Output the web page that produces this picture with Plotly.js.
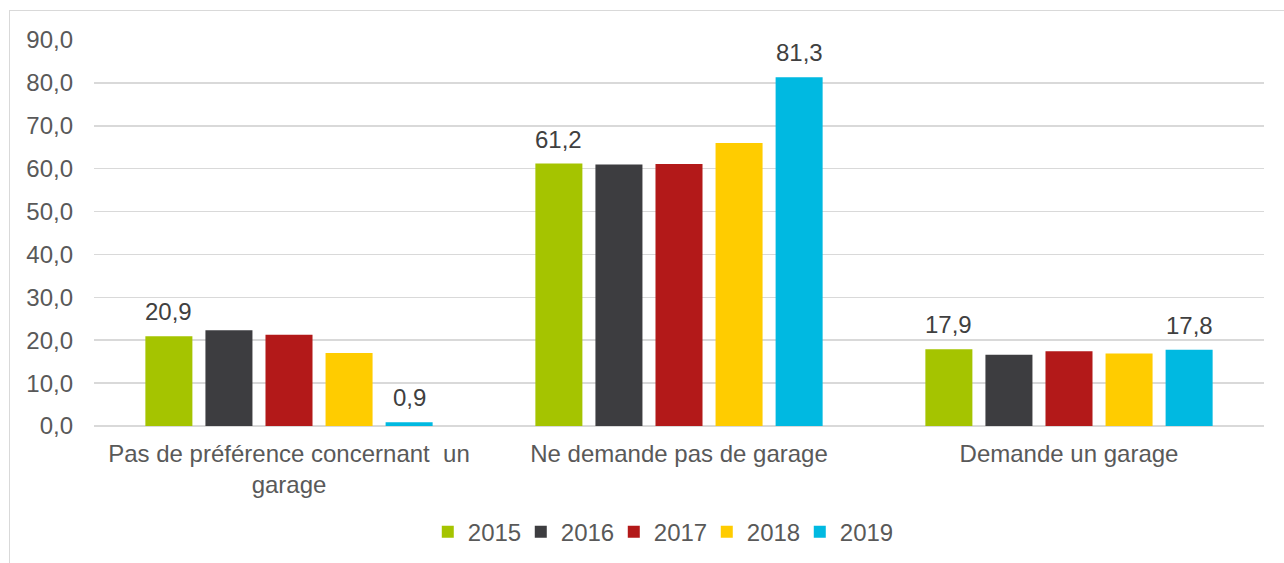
<!DOCTYPE html>
<html><head><meta charset="utf-8">
<script src="https://cdn.plot.ly/plotly-3.0.1.min.js"></script>
<style>
html,body{margin:0;padding:0;background:#fff;}
#chart{position:absolute;left:0;top:0;width:1284px;height:563px;}
#frame{position:absolute;left:9px;top:10px;width:1300px;height:600px;border-left:1px solid #d9d9d9;border-top:1px solid #d9d9d9;pointer-events:none;}
</style></head>
<body>
<div id="chart"></div>
<div id="frame"></div>
<script>
const categories = ["Pas de préférence concernant  un<br>garage", "Ne demande pas de garage", "Demande un garage"];
const years = ["2015", "2016", "2017", "2018", "2019"];
const v2015 = [20.9, 61.2, 17.9];
const v2016 = [22.3, 61.0, 16.6];
const v2017 = [21.3, 61.1, 17.4];
const v2018 = [17.0, 66.0, 16.9];
const v2019 = [0.9, 81.3, 17.8];
const colors = ["#a5c400", "#3d3d40", "#b31919", "#ffcc00", "#00b9e1"];
const labelled = [true, false, false, false, true];
const series = [v2015, v2016, v2017, v2018, v2019];

const FONT = "Liberation Sans, Arial, sans-serif";
const FS = 24;
const BARGAP = 0.23, GROUPGAP = 0.217;

const traces = series.map((vals, i) => ({
  type: "bar",
  name: years[i],
  x: categories,
  y: vals,
  marker: {color: colors[i]},
  hoverinfo: "skip"
}));

// data labels via the category axis scale: offset of each series within its group
const slot = (1 - BARGAP) / series.length;
const annotations = [];
series.forEach((vals, i) => {
  if (!labelled[i]) return;
  vals.forEach((v, j) => {
    annotations.push({
      x: j + (i - (series.length - 1) / 2) * slot,
      y: v, xref: "x", yref: "y",
      text: v.toFixed(1).replace(".", ","),
      showarrow: false, yanchor: "bottom", yshift: 9,
      font: {family: FONT, size: FS, color: "#404040"}
    });
  });
});

const layout = {
  width: 1284, height: 563,
  margin: {l: 94, r: 20, t: 40, b: 137},
  paper_bgcolor: "#fff", plot_bgcolor: "#fff",
  separators: ",.",
  font: {family: FONT, size: FS, color: "#595959"},
  barmode: "group",
  bargap: BARGAP,
  bargroupgap: GROUPGAP,
  showlegend: true,
  legend: {orientation: "h", x: 0.484, xanchor: "center", yref: "container", y: 0.055, yanchor: "middle",
           font: {family: FONT, size: FS, color: "#595959"}, itemwidth: 30, tracegroupgap: 0,
           entrywidth: 48, entrywidthmode: "pixels"},
  annotations: annotations,
  xaxis: {type: "category", showgrid: false, showline: false, ticks: "",
          ticklabelstandoff: 11, automargin: false,
          tickfont: {family: FONT, size: FS, color: "#595959"}, fixedrange: true},
  yaxis: {range: [0, 90], dtick: 10, tickformat: ".1f", showgrid: true, automargin: false,
          gridcolor: "#d9d9d9", gridwidth: 1.5, zeroline: true, zerolinecolor: "#d9d9d9",
          zerolinewidth: 2, showline: false, ticks: "", ticklabelstandoff: 20,
          tickfont: {family: FONT, size: FS, color: "#595959"}, fixedrange: true}
};

Plotly.newPlot("chart", traces, layout, {displayModeBar: false, staticPlot: true});
</script>
</body></html>
